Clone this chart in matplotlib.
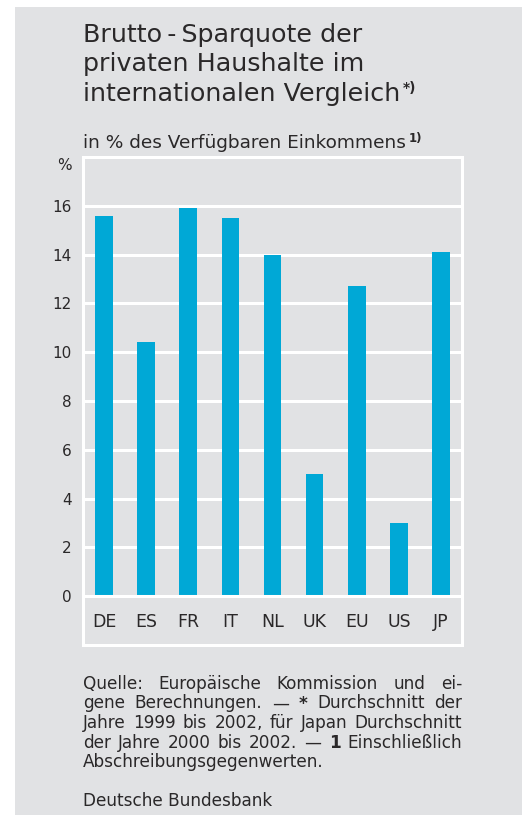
import matplotlib
matplotlib.use('Agg')
import matplotlib.pyplot as plt
from matplotlib.patches import Rectangle

# Daten
CATEGORIES = ['DE', 'ES', 'FR', 'IT', 'NL', 'UK', 'EU', 'US', 'JP']
VALUES = [15.6, 10.4, 15.9, 15.5, 14.0, 5.0, 12.7, 3.0, 14.1]
Y_TICKS = [0, 2, 4, 6, 8, 10, 12, 14, 16]

TITLE_LINES = ['Brutto\u2009-\u2009Sparquote der', 'privaten Haushalte im',
               'internationalen Vergleich']
TITLE_SUP = '*)'
SUBTITLE = 'in % des Verfügbaren Einkommens'
SUBTITLE_SUP = '1)'
FOOTNOTE_LINES = [
    'Quelle: Europäische Kommission und ei-',
    'gene Berechnungen. — * Durchschnitt der',
    'Jahre 1999 bis 2002, für Japan Durchschnitt',
    'der Jahre 2000 bis 2002. — 1 Einschließlich',
    'Abschreibungsgegenwerten.',
]
BOLD_WORDS = {(1, 3), (3, 6)}   # (Zeile, Wortindex) fett gedruckt
SOURCE = 'Deutsche Bundesbank'

W, H = 522, 815
BG = '#e1e2e4'
BAR = '#00a8d6'
TXT = '#2a2829'
FONT = 'DejaVu Sans'

plt.rcParams['font.family'] = [FONT]


def px(x, y):
    "Pixel (oben-links) -> Figurkoordinaten"
    return x / W, 1 - y / H


fig = plt.figure(figsize=(W / 100, H / 100), dpi=100)
fig.patch.set_facecolor('white')
fig.patches.append(Rectangle(px(15, H), (W - 15) / W, (H - 7) / H,
                             transform=fig.transFigure, facecolor=BG,
                             edgecolor='none', zorder=-1))

# Achsen
l, r, t, b = 83, 462, 157, 645
ax = fig.add_axes([l / W, 1 - b / H, (r - l) / W, (b - t) / H])
ax.set_facecolor(BG)
ax.bar(range(len(CATEGORIES)), VALUES, width=0.42, color=BAR, zorder=2)
ax.set_xlim(-0.5, len(CATEGORIES) - 0.5)
ax.set_ylim(-2, 18)
for v in Y_TICKS:
    ax.axhline(v, color='white', lw=2.2, zorder=1 if v else 3)
for s in ax.spines.values():
    s.set_color('white')
    s.set_linewidth(2.2)
ax.set_xticks([])
ax.set_yticks(Y_TICKS)
ax.set_yticklabels([str(v) for v in Y_TICKS], fontsize=11, color=TXT)
ax.tick_params(axis='y', length=0, pad=8)
for i, c in enumerate(CATEGORIES):
    ax.text(i, -1.05, c, ha='center', va='center', fontsize=12.5, color=TXT)
fig.text(*px(72, 165), '%', ha='right', va='center', fontsize=11,
         color=TXT)

# Titel
for i, line in enumerate(TITLE_LINES):
    fig.text(*px(83, 42 + i * 29.5), line, fontsize=18.3, color=TXT,
             va='baseline')
sub = fig.text(*px(83, 148), SUBTITLE, fontsize=13.3, color=TXT,
               va='baseline')

fig.canvas.draw()
rend = fig.canvas.get_renderer()
inv = fig.transFigure.inverted()

title_last = [t for t in fig.texts if t.get_text() == TITLE_LINES[-1]][0]
bb = title_last.get_window_extent(rend)
x0 = inv.transform((bb.x1 + 3, 0))[0]
fig.text(x0, px(0, 92)[1], TITLE_SUP, fontsize=10, fontweight='bold',
         color=TXT, va='baseline')
bb = sub.get_window_extent(rend)
x0 = inv.transform((bb.x1 + 3, 0))[0]
fig.text(x0, px(0, 142)[1], SUBTITLE_SUP, fontsize=8.5, fontweight='bold',
         color=TXT, va='baseline')

# Fussnote, Blocksatz
fx0, fx1 = 83, 462
FS = 12.2
for li, line in enumerate(FOOTNOTE_LINES):
    ypx = 689 + li * 19.5
    words = line.split(' ')
    if li == len(FOOTNOTE_LINES) - 1:
        fig.text(*px(fx0, ypx), line, fontsize=FS, color=TXT,
                 va='baseline')
        continue
    objs = []
    for wi, w in enumerate(words):
        weight = 'bold' if (li, wi) in BOLD_WORDS else 'normal'
        objs.append(fig.text(0, px(0, ypx)[1], w, fontsize=FS, color=TXT,
                             fontweight=weight, va='baseline'))
    fig.canvas.draw()
    widths = [o.get_window_extent(rend).width for o in objs]
    gap = ((fx1 - fx0) - sum(widths)) / (len(words) - 1)
    x = fx0
    for o, wd in zip(objs, widths):
        o.set_x(x / W)
        x += wd + gap

fig.text(*px(83, 806), SOURCE, fontsize=FS, color=TXT, va='baseline')

fig.savefig('out.png', dpi=100)
